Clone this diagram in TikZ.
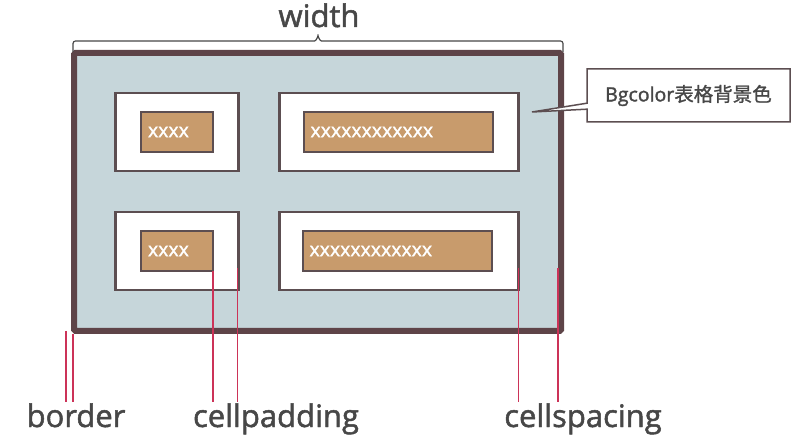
\documentclass[tikz,border=0pt]{standalone}
\usepackage{fontspec}
\setmainfont{Open Sans}[FakeBold=1.6]
\newfontfamily\cjk{Noto Sans CJK SC}[FakeBold=1.2]
\usetikzlibrary{shapes.callouts}
\definecolor{tblborder}{HTML}{5E4448}
\definecolor{tblfill}{HTML}{C6D6DA}
\definecolor{cellline}{HTML}{5C4E51}
\definecolor{datafill}{HTML}{C89B6C}
\definecolor{markred}{HTML}{CC3358}
\definecolor{labeltext}{HTML}{474747}
\begin{document}
\begin{tikzpicture}[x=1pt,y=-1pt,
  every node/.style={outer sep=0pt},
  tablebox/.style={draw=tblborder, fill=tblfill, line width=6pt, rounded corners=1.5pt},
  cellbox/.style={draw=cellline, fill=white, line width=2.2pt},
  databox/.style={draw=cellline, fill=datafill, line width=2pt, text=white,
    inner xsep=7pt, inner ysep=0pt, align=left, font=\fontsize{19.5}{19.5}\selectfont},
  marker/.style={draw=markred, line width=1.3pt},
  dimlabel/.style={text=labeltext, anchor=base, inner sep=0pt, font=\fontsize{31}{31}\selectfont},
  bracestyle/.style={draw=labeltext, line width=1.2pt, rounded corners=2.5pt},
  note/.style={rectangle callout, draw=cellline, fill=white, line width=1.5pt,
    callout pointer width=6pt, text=labeltext, font=\fontsize{19.5}{19.5}\selectfont}
]
\useasboundingbox (0,0) rectangle (800,435);

% table with its outer border
\node[tablebox, minimum width=487pt, minimum height=278pt] (tbl) at (317.5,192) {};

% cells (white) and their contents (brown)
\node[cellbox, minimum width=123pt, minimum height=78pt] (c11) at (177,132) {};
\node[cellbox, minimum width=239pt, minimum height=78pt] (c12) at (399,132) {};
\node[cellbox, minimum width=123pt, minimum height=78pt] (c21) at (177,251) {};
\node[cellbox, minimum width=239pt, minimum height=78pt] (c22) at (399,251) {};

\node[databox, text width=58pt, minimum height=40pt] (d11) at (177,132) {xxxx};
\node[databox, text width=175pt, minimum height=40pt] (d12) at (398,132) {xxxxxxxxxxxx};
\node[databox, text width=58pt, minimum height=40pt] (d21) at (177,251) {xxxx};
\node[databox, text width=175pt, minimum height=40pt] (d22) at (397,251) {xxxxxxxxxxxx};

% width brace above the table
\node[dimlabel] (wlbl) at (319,27) {width};
\coordinate (bl) at (73,52);
\coordinate (br) at (563,52);
\coordinate (btip) at (318,33);
\draw[bracestyle] (bl) |- (312,41) to[out=0,in=-90] (btip)
  to[out=-90,in=180] (324,41) -| (br);

% background colour note
\coordinate (tip) at (532,112);
\node[note, callout absolute pointer={(tip)}, minimum width=203pt, minimum height=53pt]
  (bg) at (688.5,95.5) {Bgcolor{\cjk 表格背景色}};

% dimension labels
\node[dimlabel] (blbl) at (76,427) {border};
\node[dimlabel] (plbl) at (276,427) {cellpadding};
\node[dimlabel] (slbl) at (583,427) {cellspacing};
\coordinate (mb) at (0,402);

% border markers
\coordinate (b1) at ([xshift=-8pt]tbl.south west);
\coordinate (b2) at ([xshift=-1pt,yshift=-3pt]tbl.south west);
\draw[marker] (b1) -- (b1 |- mb);
\draw[marker] (b2) -- (b2 |- mb);

% cellpadding markers
\coordinate (p1) at (d21.south east);
\coordinate (p2) at ([xshift=-1pt,yshift=-17pt]c21.east);
\draw[marker] (p1) -- (p1 |- mb);
\draw[marker] (p2) -- (p2 |- mb);

% cellspacing markers
\coordinate (s1) at ([yshift=-17pt]c22.east);
\coordinate (tin) at ([xshift=-3pt]tbl.east);
\draw[marker] (s1) -- (s1 |- mb);
\draw[marker] (tin |- s1) -- (tin |- mb);
\end{tikzpicture}
\end{document}
